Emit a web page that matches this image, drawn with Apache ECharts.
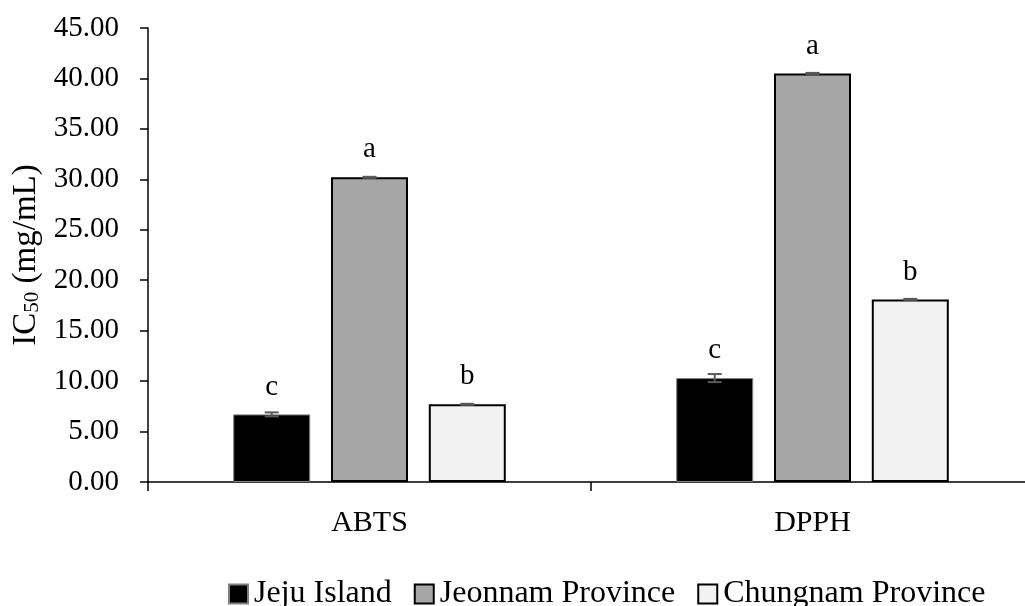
<!DOCTYPE html>
<html><head><meta charset="utf-8">
<script src="https://cdn.jsdelivr.net/npm/echarts@6/dist/echarts.min.js"></script>
<style>html,body{margin:0;padding:0;background:#fff}#c{width:1025px;height:606px}</style>
</head><body><div id="c"></div>
<script>
const categories = ['ABTS', 'DPPH'];
const seriesNames = ['Jeju Island', 'Jeonnam Province', 'Chungnam Province'];
const jeju = [6.7, 10.3];
const jeonnam = [30.2, 40.5];
const chungnam = [7.7, 18.1];
const jejuErr = [0.2, 0.4];
const jeonnamErr = [0.05, 0.05];
const chungnamErr = [0.05, 0.05];
const jejuLetters = ['c', 'c'];
const jeonnamLetters = ['a', 'a'];
const chungnamLetters = ['b', 'b'];
const yTicks = [0, 5, 10, 15, 20, 25, 30, 35, 40, 45];

const FONT = 'Liberation Serif';
const colors = ['#000000', '#a6a6a6', '#f2f2f2'];
const borders = ['#7f7f7f', '#000000', '#000000'];
const values = [jeju, jeonnam, chungnam];
const errs = [jejuErr, jeonnamErr, chungnamErr];
const letters = [jejuLetters, jeonnamLetters, chungnamLetters];
const BAR_W = 77, BAR_GAP = '27%';

const chart = echarts.init(document.getElementById('c'), null, {renderer: 'canvas'});
const series = [];
values.forEach((v, i) => {
  series.push({
    name: seriesNames[i], type: 'bar', data: v, barWidth: BAR_W, barGap: BAR_GAP,
    itemStyle: {color: colors[i], borderColor: borders[i], borderWidth: i === 0 ? 1 : 2},
    label: {show: true, position: 'top', distance: 13, fontFamily: FONT, fontSize: 29, color: '#000',
      formatter: p => letters[i][p.dataIndex]},
    z: 2
  });
});
// error bars
values.forEach((v, i) => {
  const n = values.length;
  series.push({
    type: 'custom', name: seriesNames[i] + ' err', z: 5,
    data: v.map((val, k) => [k, val - errs[i][k], val + errs[i][k]]),
    renderItem: (params, api) => {
      const k = api.value(0);
      const lo = api.coord([k, api.value(1)]);
      const hi = api.coord([k, api.value(2)]);
      const step = BAR_W * 1.27;
      const x = lo[0] + (i - (n - 1) / 2) * step;
      const cap = 7;
      const st = {stroke: '#595959', lineWidth: 2};
      return {type: 'group', children: [
        {type: 'line', shape: {x1: x, y1: lo[1], x2: x, y2: hi[1]}, style: st},
        {type: 'line', shape: {x1: x - cap, y1: lo[1], x2: x + cap, y2: lo[1]}, style: st},
        {type: 'line', shape: {x1: x - cap, y1: hi[1], x2: x + cap, y2: hi[1]}, style: st}
      ]};
    },
    tooltip: {show: false}, legendHoverLink: false
  });
});

chart.setOption({
  animation: false,
  backgroundColor: '#fff',
  grid: {left: 148, top: 28, height: 454, width: 886, containLabel: false, outerBoundsMode: 'none'},
  legend: {
    data: seriesNames, left: 223, top: 573, itemWidth: 19, itemHeight: 19, itemGap: 22,
    textStyle: {fontFamily: FONT, fontSize: 32, color: '#000', padding: [0, 0, 0, 1]},
    icon: 'rect'
  },
  xAxis: {
    type: 'category', data: categories,
    axisLine: {lineStyle: {color: '#000', width: 1.5}},
    axisTick: {show: true, length: 9, alignWithLabel: false, lineStyle: {color: '#000', width: 1.5}},
    axisLabel: {fontFamily: FONT, fontSize: 30, color: '#000', margin: 26}
  },
  yAxis: {
    type: 'value', min: 0, max: 45, interval: 5,
    name: '{m|IC}{s|50}{m| (mg/mL)}', nameLocation: 'middle', nameGap: 104, nameRotate: 90,
    nameTextStyle: {rich: {
      m: {fontFamily: FONT, fontSize: 33, color: '#000'},
      s: {fontFamily: FONT, fontSize: 21, color: '#000', padding: [12, 0, 0, 0]}
    }},
    splitLine: {show: false},
    axisLine: {show: true, lineStyle: {color: '#000', width: 1.5}},
    axisTick: {show: true, length: 8, inside: false, lineStyle: {color: '#000', width: 1.5}},
    axisLabel: {fontFamily: FONT, fontSize: 29, color: '#000', margin: 29,
      formatter: v => yTicks.includes(v) ? v.toFixed(2) : ''}
  },
  series: series
});
</script></body></html>
